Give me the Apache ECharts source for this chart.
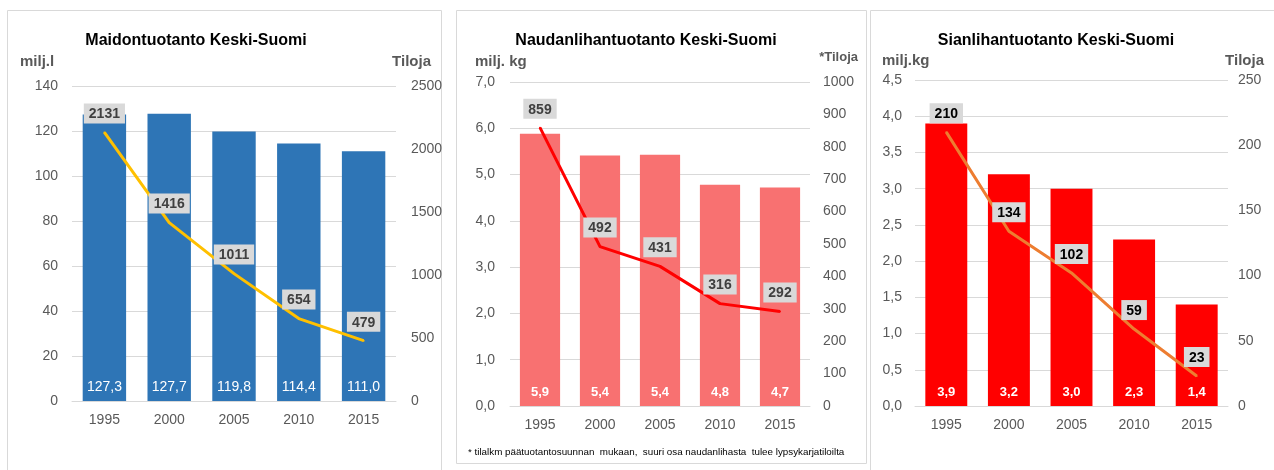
<!DOCTYPE html>
<html>
<head>
<meta charset="utf-8">
<script src="https://cdn.jsdelivr.net/npm/echarts@6/dist/echarts.min.js"></script>
<style>
  html, body { margin: 0; padding: 0; background: #fff; }
  #main { width: 1274px; height: 470px; }
</style>
</head>
<body>
<div id="main"></div>
<script>
// vuodet
var years = ['1995', '2000', '2005', '2010', '2015'];

// maito (milj. l) ja tilat
var maitoMaara = [127.3, 127.7, 119.8, 114.4, 111.0];
var maitoTilat = [2131, 1416, 1011, 654, 479];

// naudanliha (milj. kg) ja tilat
var nautaMaara = [5.88, 5.41, 5.43, 4.78, 4.72];
var nautaTilat = [859, 492, 431, 316, 292];

// sianliha (milj. kg) ja tilat
var sikaMaara = [3.9, 3.2, 3.0, 2.3, 1.4];
var sikaTilat = [210, 134, 102, 59, 23];

var FONT = '"Liberation Sans", Arial, sans-serif';
var GRAY = '#595959';
var GRID_LINE = '#d9d9d9';

var comma1 = function (v) { return v.toFixed(1).replace('.', ','); };
var plain = function (v) { return String(v); };

var grids = [
  { left: 72, top: 86, width: 324, height: 315 },
  { left: 510, top: 82, width: 300, height: 324 },
  { left: 915, top: 80, width: 313, height: 326 }
];

var xAxes = grids.map(function (g, i) {
  return {
    type: 'category', gridIndex: i, data: years,
    axisTick: { show: false },
    axisLine: { lineStyle: { color: GRID_LINE } },
    axisLabel: { color: GRAY, fontSize: 14, fontFamily: FONT, margin: 12 }
  };
});

function leftAxis(i, max, interval, fmt, margin) {
  return {
    type: 'value', gridIndex: i, min: 0, max: max, interval: interval, position: 'left',
    axisLine: { show: false }, axisTick: { show: false },
    splitLine: { lineStyle: { color: GRID_LINE } },
    axisLabel: { color: GRAY, fontSize: 14, fontFamily: FONT, margin: margin, formatter: fmt }
  };
}
function rightAxis(i, max, interval, margin) {
  return {
    type: 'value', gridIndex: i, min: 0, max: max, interval: interval, position: 'right',
    axisLine: { show: false }, axisTick: { show: false }, splitLine: { show: false },
    axisLabel: { color: GRAY, fontSize: 14, fontFamily: FONT, margin: margin, formatter: plain }
  };
}

var yAxes = [
  leftAxis(0, 140, 20, plain, 14), rightAxis(0, 2500, 500, 15),
  leftAxis(1, 7, 1, comma1, 15), rightAxis(1, 1000, 100, 13),
  leftAxis(2, 4.5, 0.5, comma1, 13), rightAxis(2, 250, 50, 10)
];

function barSeries(i, data, color, bold) {
  return {
    type: 'bar', xAxisIndex: i, yAxisIndex: i * 2, data: data,
    barWidth: '67%',
    itemStyle: { color: color },
    label: {
      show: true, position: 'insideBottom', distance: 7,
      color: '#fff', fontSize: bold ? 13 : 14, fontWeight: bold ? 'bold' : 'normal', fontFamily: FONT,
      formatter: function (p) { return comma1(p.value); }
    },
    z: 2
  };
}
function lineSeries(i, data, color, textColor) {
  return {
    type: 'line', xAxisIndex: i, yAxisIndex: i * 2 + 1, data: data,
    symbol: 'circle', symbolSize: 2, showSymbol: true,
    itemStyle: { color: color, borderWidth: 0 },
    lineStyle: { color: color, width: 3 },
    label: {
      show: true, position: 'top', distance: 8,
      color: textColor, fontSize: 14, fontWeight: 'bold', fontFamily: FONT,
      backgroundColor: '#d9d9d9', padding: [4, 5, 2, 5]
    },
    labelLayout: { hideOverlap: false },
    z: 3
  };
}

var series = [
  barSeries(0, maitoMaara, '#2E75B6', false),
  lineSeries(0, maitoTilat, '#FFC000', '#404040'),
  barSeries(1, nautaMaara, '#F87171', true),
  lineSeries(1, nautaTilat, '#FF0000', '#404040'),
  barSeries(2, sikaMaara, '#FF0000', true),
  lineSeries(2, sikaTilat, '#ED7D31', '#000')
];

function txt(x, y, text, size, weight, color, align) {
  return {
    type: 'text', x: x, y: y, silent: true,
    style: {
      text: text, fontSize: size, fontWeight: weight, fill: color, fontFamily: FONT,
      align: align || 'left', verticalAlign: 'middle'
    }
  };
}
function box(x, y, w, h) {
  return {
    type: 'rect', shape: { x: x + 0.5, y: y + 0.5, width: w, height: h }, silent: true,
    style: { fill: 'none', stroke: '#d9d9d9', lineWidth: 1 }, z: -1
  };
}

var graphic = [
  box(7, 10, 434, 480),
  box(456, 10, 410, 453),
  box(870, 10, 420, 480),
  txt(196, 41, 'Maidontuotanto Keski-Suomi', 16, 'bold', '#000', 'center'),
  txt(646, 41, 'Naudanlihantuotanto Keski-Suomi', 16, 'bold', '#000', 'center'),
  txt(1056, 41, 'Sianlihantuotanto Keski-Suomi', 16, 'bold', '#000', 'center'),
  txt(20, 62, 'milj.l', 15, 'bold', GRAY),
  txt(431, 62, 'Tiloja', 15, 'bold', GRAY, 'right'),
  txt(475, 62, 'milj. kg', 15, 'bold', GRAY),
  txt(858, 57, '*Tiloja', 13, 'bold', GRAY, 'right'),
  txt(882, 61, 'milj.kg', 15, 'bold', GRAY),
  txt(1264, 61, 'Tiloja', 15, 'bold', GRAY, 'right'),
  txt(468, 452, '* tilalkm päätuotantosuunnan  mukaan,  suuri osa naudanlihasta  tulee lypsykarjatiloilta', 9.8, 'normal', '#000')
];

var myChart = echarts.init(document.getElementById('main'));
myChart.setOption({
  animation: false,
  grid: grids,
  xAxis: xAxes,
  yAxis: yAxes,
  series: series,
  graphic: graphic
});
</script>
</body>
</html>
